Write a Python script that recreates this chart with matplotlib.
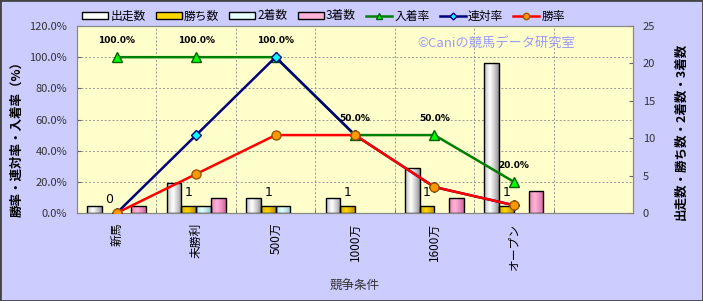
import numpy as np
import matplotlib
matplotlib.use('Agg')
import matplotlib.pyplot as plt
import matplotlib.transforms as mtransforms
from matplotlib.patches import Rectangle

plt.rcParams['font.family'] = ['Noto Sans CJK JP', 'DejaVu Sans']

# データ
categories = ['新馬', '未勝利', '500万', '1000万', '1600万', 'オープン', '']
starts = [1, 4, 2, 2, 6, 20, 0]      # 出走数
wins = [0, 1, 1, 1, 1, 1, 0]         # 勝ち数
seconds = [0, 1, 1, 0, 0, 0, 0]      # 2着数
thirds = [1, 2, 0, 0, 2, 3, 0]       # 3着数
place_rate = [1.0, 1.0, 1.0, 0.5, 0.5, 0.2]        # 入着率
quinella_rate = [0.0, 0.5, 1.0, 0.5, 1/6, 0.05]    # 連対率
win_rate = [0.0, 0.25, 0.5, 0.5, 1/6, 0.05]        # 勝率

BG = '#CCCCFF'
PLOT_BG = '#FFFFCC'

fig = plt.figure(figsize=(7.03, 3.01), dpi=100, facecolor=BG)
ax = fig.add_axes([77/703, 1-213/301, 556/703, 187/301])
ax2 = ax.twinx()
ax.set_zorder(2)
ax2.set_zorder(1)
ax.patch.set_visible(False)
ax2.patch.set_visible(True)
ax2.patch.set_facecolor(PLOT_BG)

n = len(categories)
x = np.arange(n)
ax.set_xlim(-0.5, n - 0.5)
ax.set_ylim(0, 1.2)
ax2.set_ylim(0, 25)

# グリッド(棒の後ろ)
blend = mtransforms.blended_transform_factory(ax2.transAxes, ax.transData)
for v in np.arange(0.2, 1.21, 0.2):
    ax2.plot([0, 1], [v, v], transform=blend, color='#999999', lw=0.7,
             ls=(0, (2, 2)), zorder=0.5)
for b in np.arange(0.5, n - 0.5, 1):
    ax2.axvline(b, color='#999999', lw=0.7, ls=(0, (2, 2)), zorder=0.5)

# 棒グラフ(円柱風のグラデーション)
w = 0.185
series = [
    (starts, '出走数', '#FFFFFF', '#8C8C8C'),
    (wins, '勝ち数', '#FFD700', '#B38600'),
    (seconds, '2着数', '#E6FFFF', '#88C8C8'),
    (thirds, '3着数', '#FFB3D9', '#D0609A'),
]
t = np.linspace(0, 1, 40)
weight = np.clip(1 - np.abs(t - 0.4) / 0.6, 0, 1) ** 0.8
bar_handles = []
for i, (vals, name, cmid, cedge) in enumerate(series):
    pos = x + (i - 1.5) * w
    hts = np.array(vals, dtype=float)
    bars = ax2.bar(pos, hts, w, color=cmid, edgecolor='none', zorder=2)
    mid = np.array(matplotlib.colors.to_rgb(cmid))
    edge = np.array(matplotlib.colors.to_rgb(cedge))
    prof = edge[None, :] + (mid - edge)[None, :] * weight[:, None]
    for bar in bars:
        if bar.get_height() <= 0:
            continue
        bx, by = bar.get_x(), bar.get_y()
        im = ax2.imshow(prof[None, :, :], extent=[bx, bx + bar.get_width(), by, by + bar.get_height()],
                        aspect='auto', zorder=2.2, interpolation='bilinear')
        im.set_clip_path(bar)
    mask = hts > 0
    ax2.bar(pos[mask], hts[mask], w, fill=False, edgecolor='black', lw=1.0, zorder=2.5)
    bar_handles.append(Rectangle((0, 0), 1, 1, facecolor=cmid, edgecolor='black', lw=1.0))

ax2.set_xlim(-0.5, n - 0.5)
ax2.set_ylim(0, 25)

# 勝ち数ラベル
for xi, v in zip(x[:6], wins[:6]):
    ax2.annotate(str(v), (xi - 0.5 * w, v), xytext=(0, 9.5), textcoords='offset points',
                 ha='center', va='center', fontsize=9, family='DejaVu Sans', zorder=4)

# 折れ線
xl = x[:6]
l1, = ax.plot(xl, place_rate, color='#008000', lw=1.8, marker='^', ms=7,
              mfc='#00FF00', mec='#006000', zorder=3)
l2, = ax.plot(xl, quinella_rate, color='#000080', lw=1.8, marker='D', ms=5,
              mfc='#00FFFF', mec='#000080', zorder=3.1)
l3, = ax.plot(xl, win_rate, color='#FF0000', lw=1.8, marker='o', ms=6.5,
              mfc='#FF9900', mec='#995500', zorder=3.2)

for xi, v in zip(xl, place_rate):
    ax.annotate('{:.1f}%'.format(v * 100), (xi, v), xytext=(0, 12), textcoords='offset points',
                ha='center', va='center', fontsize=6.5, fontweight='bold', family='DejaVu Sans', zorder=5)

# 目盛り
ax.set_xticks(x)
ax.set_xticklabels(categories, rotation=90, fontsize=8.5)
ax.set_xticks(np.arange(0.5, n - 0.5, 1), minor=True)
ax.tick_params(axis='x', which='major', length=0, pad=7)
ax.tick_params(axis='x', which='minor', direction='in', length=3, color='#666666')
ax.set_yticks(np.arange(0, 1.21, 0.2))
ax.set_yticklabels(['{:.1f}%'.format(v * 100) for v in np.arange(0, 1.21, 0.2)], fontsize=8)
ax.tick_params(axis='y', direction='in', length=3, pad=7, color='#666666', labelcolor='#333333')
ax2.set_yticks(np.arange(0, 26, 5))
ax2.tick_params(axis='y', direction='in', length=3, pad=7, labelsize=8, color='#666666', labelcolor='#333333')

for a in (ax, ax2):
    for s in a.spines.values():
        s.set_color('#888888')
        s.set_linewidth(0.8)

ax.set_ylabel('勝率・連対率・入着率（%）', fontsize=9, fontweight='bold')
ax.yaxis.set_label_coords(-0.097, 0.414)
ax2.set_ylabel('出走数・勝ち数・2着数・3着数', fontsize=9, fontweight='bold', rotation=90)
ax2.yaxis.set_label_coords(1.074, 0.436)
ax.set_xlabel('競争条件', fontsize=9, color='#333333')
ax.xaxis.set_label_coords(0.5, -0.36)

ax.text(0.753, 0.909, '©Caniの競馬データ研究室', transform=ax.transAxes, ha='center', va='center',
        fontsize=9.5, color='#9999FF', zorder=1)

handles = bar_handles + [l1, l2, l3]
labels = ['出走数', '勝ち数', '2着数', '3着数', '入着率', '連対率', '勝率']
fig.legend(handles, labels, loc='center left', bbox_to_anchor=(82/703, 1-16/301), ncol=7,
           frameon=False, fontsize=8.5, handlelength=2.2, handleheight=0.6, handletextpad=0.2,
           columnspacing=0.85, borderpad=0, borderaxespad=0, numpoints=1, markerscale=0.7)

fig.patches.append(Rectangle((0, 0), 1, 1, transform=fig.transFigure, fill=False,
                             edgecolor='#444444', lw=2, zorder=10))

fig.savefig('out.png', dpi=100, facecolor=BG)
